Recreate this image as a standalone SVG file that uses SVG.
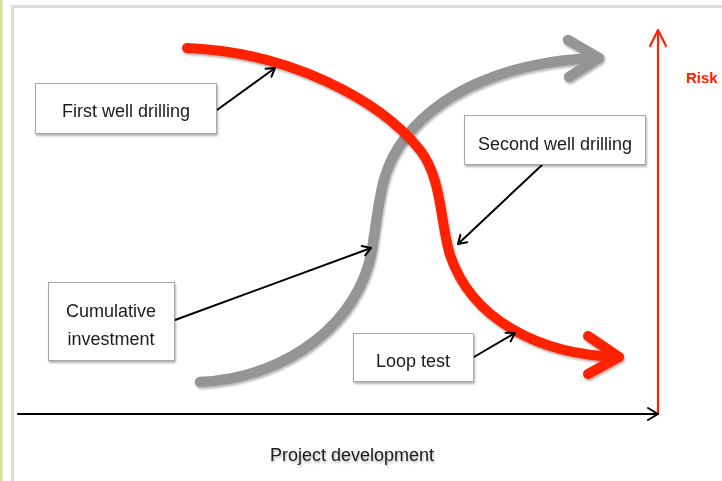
<svg xmlns="http://www.w3.org/2000/svg" width="722" height="481" viewBox="0 0 722 481">
<defs>
<style>
.lbl{font-family:"Liberation Sans",Arial,sans-serif;font-size:18px;fill:#1a1a1a;text-anchor:middle}
.box{fill:#fff;stroke:#a6a6a6;stroke-width:1}
.thin{fill:none;stroke:#000;stroke-width:2;stroke-linecap:round;stroke-linejoin:round}
.red{fill:none;stroke:#ff2200;stroke-width:10;stroke-linecap:round;stroke-linejoin:round}
.gray{fill:none;stroke:#959595;stroke-width:10.5;stroke-linecap:round;stroke-linejoin:round}
</style>
<filter id="sh" x="-10%" y="-10%" width="130%" height="140%">
<feGaussianBlur in="SourceAlpha" stdDeviation="1.2"/>
<feOffset dx="1" dy="2" result="o"/>
<feComponentTransfer><feFuncA type="linear" slope="0.3"/></feComponentTransfer>
<feMerge><feMergeNode/><feMergeNode in="SourceGraphic"/></feMerge>
</filter>
<marker id="ah" viewBox="0 0 12 12" refX="10" refY="6" markerWidth="12" markerHeight="12" markerUnits="userSpaceOnUse" orient="auto">
<path d="M2,1 L10,6 L2,11" fill="none" stroke="#000" stroke-width="2" stroke-linecap="round" stroke-linejoin="round"/>
</marker>
</defs>
<rect width="722" height="481" fill="#fff"/>
<rect x="0" y="0" width="2.5" height="481" fill="#cde29a"/>
<path d="M12.5,481 V6.5 H722" fill="none" stroke="#dcdcdc" stroke-width="3"/>

<g id="axes">
<line x1="18" y1="414" x2="658" y2="414" class="thin"/>
<polyline points="648,408 658,414 648,420" class="thin"/>
<line x1="658" y1="413" x2="658" y2="31" stroke="#ff2200" stroke-width="2.2"/>
<polyline points="650,46 658,30 666,46" fill="none" stroke="#ff2200" stroke-width="2.2" stroke-linecap="round" stroke-linejoin="round"/>
</g>

<g id="investment-curve" filter="url(#sh)">
<path class="gray" d="M200,382 C290,378 360,320 372,250 C380,200 380,170 405,138 C450,80 530,60 599,58"/>
<polyline class="gray" points="568,40 599,58 569,77"/>
</g>
<g id="risk-curve" filter="url(#sh)">
<path class="red" d="M187,48 C290,52 380,100 420,150 C442,178 440,222 450,255 C472,320 540,355 619,357"/>
<polyline class="red" points="588,336 619,357 588,374"/>
</g>

<g id="connectors">
<line x1="217" y1="110" x2="275" y2="68" class="thin" marker-end="url(#ah)"/>
<line x1="542" y1="165" x2="458" y2="244" class="thin" marker-end="url(#ah)"/>
<line x1="175" y1="320" x2="371" y2="248" class="thin" marker-end="url(#ah)"/>
<line x1="474" y1="357" x2="515" y2="333" class="thin" marker-end="url(#ah)"/>
</g>

<g id="first-well" filter="url(#sh)">
<rect class="box" x="35.5" y="83.5" width="181" height="50"/>
<text class="lbl" x="126" y="117">First well drilling</text>
</g>
<g id="second-well" filter="url(#sh)">
<rect class="box" x="464.5" y="115.5" width="181" height="49"/>
<text class="lbl" x="555" y="150">Second well drilling</text>
</g>
<g id="cumulative" filter="url(#sh)">
<rect class="box" x="48.5" y="282.5" width="126" height="78"/>
<text class="lbl" x="111" y="317">Cumulative</text>
<text class="lbl" x="111" y="345">investment</text>
</g>
<g id="loop-test" filter="url(#sh)">
<rect class="box" x="353.5" y="333.5" width="120" height="48"/>
<text class="lbl" x="413" y="367">Loop test</text>
</g>
<g id="labels">
<text class="lbl" x="352" y="461" filter="url(#sh)">Project development</text>
<text x="686" y="83" font-family="'Liberation Sans',Arial,sans-serif" font-size="15" font-weight="bold" fill="#ff2200">Risk</text>
</g>
</svg>
